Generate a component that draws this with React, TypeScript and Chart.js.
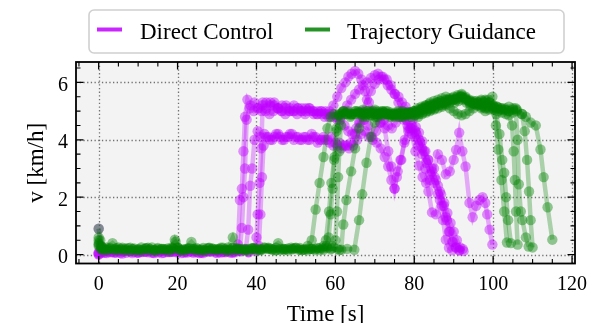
import { useEffect, useRef } from 'react';
import { Chart, registerables } from 'chart.js';

Chart.register(...registerables);

// ---------- data: [time s, speed km/h] ----------
const seriesNames = ['Direct Control', 'Trajectory Guidance'];

const dc1 = [[0,0.9],[0.5,0.3],[1,0.1],[3,0.08],[5,0.12],[7,0.06],[9,0.1],[11,0.09],[13,0.14],[15,0.07],[17,0.11],[19,0.1],[21,0.05],[23,0.12],[25,0.08],[27,0.1],[29,0.13],[31,0.07],[33,0.1],[34.6,0.15],[35.3,0.35],[35.8,1.9],[36.3,2.3],[36.7,3.6],[37.1,4.8],[37.7,5.4],[38.5,5.2],[39.5,5.3],[40.5,5.1],[41.5,5.2],[42.5,5.1],[43.5,5.3],[44.5,5.2],[45.5,5.1],[46.5,5.0],[47.5,5.1],[48.5,5.0],[49.5,5.2],[50.5,5.1],[51.5,5.0],[52.5,5.1],[53.5,5.0],[54.5,4.9],[55.5,5.0],[56.5,5.0],[57.5,4.9],[58.5,5.0],[59.5,5.2],[60.5,5.5],[61.5,5.8],[62.5,6.0],[63.3,6.2],[64.1,6.3],[65,6.4],[65.8,6.3],[66.6,6.1],[67.5,5.7],[68.5,5.3],[69.5,5.0],[70.5,4.9],[71.5,4.6],[72.5,4.4],[73.4,3.6],[74.2,3.07],[75,2.3],[75.6,2.7],[76.5,3.3],[77.5,3.9],[78.5,4.3],[79.5,4.4],[80.5,4.2],[81.5,3.9],[82.5,3.6],[83.5,3.3],[84.5,2.9],[85.5,2.6],[86.5,2.2],[87.5,1.7],[88.3,1.2],[89,0.8],[89.8,0.45],[90.6,0.25],[91.5,0.15]];

const dc2 = [[0,0.05],[1,0.08],[2,0.12],[4,0.06],[6,0.1],[8,0.13],[10,0.07],[12,0.1],[14,0.05],[16,0.12],[18,0.09],[20,0.11],[22,0.08],[24,0.13],[26,0.06],[28,0.1],[30,0.12],[32,0.08],[34,0.1],[36,0.14],[38,0.09],[39.5,0.2],[40,0.6],[40.3,1.4],[40.8,2.5],[41.2,3.7],[41.6,5.3],[42.5,5.3],[43.5,5.2],[44.5,5.3],[45.5,5.1],[46.5,5.2],[47.5,5.2],[48.5,5.1],[49.5,5.0],[50.5,5.1],[51.5,5.1],[52.5,5.0],[53.5,5.1],[54.5,5.0],[55.5,4.9],[56.5,4.9],[57.5,5.0],[58.5,4.9],[59.5,4.8],[60.5,4.7],[61.3,4.8],[62.2,5.0],[63,5.2],[64,5.4],[65,5.6],[66,5.75],[67,5.9],[68,6.0],[69,6.15],[70,6.25],[70.8,6.3],[71.6,6.2],[72.4,6.1],[73.3,5.9],[74.2,5.75],[75.1,5.6],[76,5.5],[76.9,5.3],[77.8,5.15],[78.8,4.95],[79.6,4.7],[80.4,4.45],[81.2,4.25],[82,3.95],[82.8,3.6],[83.6,3.3],[84.4,3.0],[85.2,2.7],[86,2.4],[86.8,2.1],[87.6,1.8],[88.4,1.45],[89.2,1.1],[90,0.8],[90.8,0.5],[91.6,0.25],[92.5,0.12]];

const dc3 = [[0,0.02],[1.5,0.06],[3.5,0.1],[5.5,0.05],[7.5,0.12],[9.5,0.08],[11.5,0.1],[13.5,0.06],[15.5,0.11],[17.5,0.09],[19.5,0.13],[21.5,0.07],[23.5,0.1],[25.5,0.05],[27.5,0.12],[29.5,0.08],[31.5,0.1],[33.5,0.06],[35.5,0.12],[37.3,0.2],[37.9,0.87],[38.4,2.4],[38.9,3.0],[39.5,4.0],[40.3,4.3],[41,4.1],[42,4.2],[43,4.1],[44,4.0],[45,4.2],[46,4.1],[47,4.0],[48,4.1],[49,4.2],[50,4.1],[51,4.0],[52,4.1],[53,4.0],[54,4.2],[55,4.1],[56,4.0],[57,4.1],[58,4.0],[59,4.1],[60,3.9],[61,3.9],[62,3.8],[63,3.8],[64,3.9],[65,4.2],[66,4.6],[67,5.0],[68,5.4],[69,5.7],[70,5.95],[71,6.1],[72,6.2],[73,6.1],[74,5.9],[75,5.6],[76,5.3],[77,5.0],[78,4.7],[79,4.4],[80,4.1],[81,3.8],[82,3.5],[83,3.2],[84,2.8],[85,2.5],[86,2.1],[87,1.7],[88,1.3],[88.8,0.8],[89.6,0.45],[90.5,0.25],[91.4,0.15],[92.3,0.2]];

const dc4 = [[0,0.08],[0.5,0.05],[2.5,0.1],[4.5,0.07],[6.5,0.12],[8.5,0.05],[10.5,0.1],[12.5,0.08],[14.5,0.13],[16.5,0.06],[18.5,0.1],[20.5,0.12],[22.5,0.07],[24.5,0.1],[26.5,0.05],[28.5,0.11],[30.5,0.09],[32.5,0.12],[34.5,0.08],[35.8,0.2],[36.3,0.93],[36.7,2.0],[37.1,3.0],[37.5,4.7],[38.3,5.1],[39.3,5.0],[40.3,5.1],[41.3,5.0],[42.3,5.0],[43.3,4.9],[44.3,5.0],[45.3,5.1],[46.3,5.0],[47.3,4.9],[48.3,5.0],[49.3,5.0],[50.3,4.9],[51.3,5.0],[52.3,4.9],[53.3,5.1],[54.3,5.0],[55.3,4.9],[56.3,5.0],[57.3,4.8],[58.3,4.8],[59.3,4.9],[60.3,4.8],[61.3,4.7],[62.3,4.5],[63.3,4.3],[64.3,4.2],[65.3,4.4],[66.3,4.6],[67.3,4.7],[68.3,4.5],[69.3,4.1],[70.3,4.3],[71.3,4.6],[72.3,4.7],[73.3,4.5],[74.3,4.4],[75.3,4.6],[76.3,4.8],[77.3,4.7],[78.3,4.5],[79.3,4.5],[80.3,4.3],[81.2,4.0],[82,3.7],[82.8,3.0],[83.6,2.2],[84.5,1.47],[85.5,1.4],[86.5,1.9],[87.3,1.2],[88,0.52],[88.8,0.24],[89.6,0.15]];

const dc5 = [[0,0.0],[2,0.05],[4,0.09],[6,0.04],[8,0.1],[10,0.06],[12,0.12],[14,0.08],[16,0.05],[18,0.1],[20,0.07],[22,0.11],[24,0.06],[26,0.09],[28,0.12],[30,0.05],[32,0.1],[34,0.07],[36,0.11],[38,0.08],[40,0.12],[40.6,0.3],[41,1.4],[41.4,2.7],[41.8,3.8],[42.5,4.1],[43.5,4.0],[44.5,4.1],[45.5,4.2],[46.5,4.0],[47.5,4.1],[48.5,4.2],[49.5,4.0],[50.5,4.1],[51.5,4.0],[52.5,4.1],[53.5,4.0],[54.5,4.1],[55.5,3.9],[56.5,4.0],[57.5,4.0],[58.5,3.9],[59.5,3.8],[60.5,3.8],[61.5,3.7],[62.5,3.8],[63.5,3.7],[64.5,3.8],[65.5,4.0],[66.5,4.2],[67.5,4.3],[68.5,4.1],[69.5,4.0],[70.5,3.9],[71.5,3.7],[72.5,3.4],[73.4,3.07],[74.2,2.6],[75,2.3],[75.8,2.9],[76.7,3.3],[77.6,4.0],[78.5,4.4],[79.4,4.2],[80.3,3.6],[81.2,3.1],[82.1,2.7],[83,2.5],[84,2.6],[85,3.0],[86,3.5],[87,3.3],[88,2.8],[89,2.9],[90,3.3],[90.6,3.65],[91.4,4.25],[92.2,3.6],[93,3.07],[94,1.8],[94.8,1.3],[95.7,1.7],[96.5,1.9],[97.3,2.0],[98,1.8],[98.5,1.4],[99.1,0.87],[99.8,0.35]];

const tg1 = [[0,0.9],[0.4,0.5],[1,0.25],[2.5,0.18],[4.5,0.22],[6.5,0.15],[8.5,0.2],[10.5,0.17],[12.5,0.24],[14.5,0.14],[16.5,0.2],[18.5,0.25],[19.3,0.52],[20.5,0.18],[22.5,0.21],[24.5,0.15],[26.5,0.23],[28.5,0.17],[30.5,0.2],[32.5,0.14],[34,0.6],[35,0.22],[37,0.18],[39,0.21],[41,0.15],[43,0.2],[45,0.24],[47,0.16],[49,0.2],[51,0.18],[53,0.3],[54,0.5],[55,1.57],[56,2.5],[57,3.4],[58,4.4],[58.8,4.8],[59.8,4.9],[60.8,4.85],[61.8,4.95],[62.8,4.9],[63.8,4.8],[64.8,4.9],[65.8,5.0],[66.8,4.9],[67.8,4.85],[68.8,4.95],[69.8,4.9],[70.8,4.8],[71.8,4.9],[72.8,5.0],[73.8,4.9],[74.8,4.85],[75.8,4.9],[76.8,4.8],[77.8,4.9],[78.8,4.95],[79.8,5.0],[80.8,5.1],[81.8,5.15],[82.8,5.2],[83.8,5.25],[84.8,5.2],[85.8,5.3],[86.8,5.35],[87.8,5.3],[88.8,5.4],[89.8,5.45],[90.8,5.4],[91.8,5.5],[92.8,5.45],[93.8,5.35],[94.8,5.3],[95.8,5.35],[96.8,5.25],[97.8,5.3],[98.8,5.4],[99.8,5.5],[100.7,4.5],[101.3,3.66],[102.1,2.6],[102.8,1.5],[103.5,0.42]];

const tg2 = [[0,0.6],[0.6,0.3],[1.5,0.2],[3.5,0.4],[5.5,0.18],[7.5,0.22],[9.5,0.14],[11.5,0.2],[13.5,0.25],[15.5,0.17],[17.5,0.21],[19.5,0.45],[21.5,0.19],[23.5,0.44],[25.5,0.16],[27.5,0.22],[29.5,0.18],[31.5,0.24],[33.5,0.15],[35.5,0.2],[37.5,0.17],[39.5,0.23],[41.5,0.18],[43.5,0.21],[45.5,0.4],[47.5,0.19],[49.5,0.22],[51.5,0.16],[53.5,0.2],[55.5,0.23],[57,0.3],[57.6,0.5],[58.4,1.5],[59,2.5],[59.7,3.3],[60.3,4.3],[61,4.85],[62,5.0],[63,4.95],[64,4.9],[65,5.0],[66,4.95],[67,5.05],[68,4.9],[69,5.0],[70,5.05],[71,4.95],[72,5.0],[73,4.9],[74,4.95],[75,4.85],[76,4.8],[77,4.9],[78,4.85],[79,4.95],[80,5.0],[81,4.95],[82,5.05],[83,5.1],[84,5.1],[85,5.2],[86,5.25],[87,5.3],[88,5.35],[89,5.4],[90,5.5],[91,5.55],[92,5.6],[93,5.45],[94,5.3],[95,5.25],[96,5.2],[97,5.15],[98,5.1],[99,5.2],[100,5.15],[100.8,4.9],[101.6,4.2],[102.3,3.3],[102.8,2.85],[103.3,2.0],[103.8,1.2],[104.5,0.4]];

const tg3 = [[0,0.5],[0.7,0.25],[2,0.15],[4,0.2],[6,0.24],[8,0.13],[10,0.19],[12,0.22],[14,0.16],[16,0.2],[18,0.14],[20,0.23],[22,0.18],[24,0.2],[26,0.15],[28,0.24],[30,0.19],[32,0.16],[34,0.22],[36,0.18],[38,0.14],[40,0.2],[42,0.25],[44,0.17],[46,0.2],[48,0.15],[50,0.22],[52,0.18],[54,0.2],[56,0.16],[58,0.24],[59.3,0.3],[60,0.5],[60.4,1.5],[60.7,2.7],[61,3.6],[61.4,4.5],[62.2,4.9],[63.2,5.0],[64.2,4.9],[65.2,5.0],[66.2,4.9],[67.2,4.95],[68.2,5.0],[69.2,4.85],[70.2,4.8],[71.2,4.9],[72.2,4.95],[73.2,5.0],[74.2,4.9],[75.2,4.95],[76.2,4.9],[77.2,4.8],[78.2,4.85],[79.2,4.8],[80.2,4.85],[81.2,4.9],[82.2,4.95],[83.2,5.0],[84.2,5.05],[85.2,5.1],[86.2,5.2],[87.2,5.3],[88.2,5.4],[89.2,5.35],[90.2,5.3],[91.2,5.35],[92.2,5.4],[93.2,5.3],[94.2,5.2],[95.2,5.25],[96.2,5.3],[97.2,5.2],[98.2,5.15],[99.2,5.1],[100.2,5.05],[101.2,5.0],[102.2,4.95],[103.2,4.9],[104,4.85],[104.8,4.5],[105.2,3.6],[105.5,2.6],[105.8,1.5],[106.2,0.35]];

const tg4 = [[0,0.4],[0.8,0.2],[2.8,0.24],[4.8,0.16],[6.8,0.21],[8.8,0.18],[10.8,0.25],[12.8,0.15],[14.8,0.2],[16.8,0.17],[18.8,0.22],[20.8,0.14],[22.8,0.2],[24.8,0.23],[26.8,0.16],[28.8,0.21],[30.8,0.18],[32.8,0.25],[34.8,0.15],[36.8,0.2],[38.8,0.22],[40.8,0.17],[42.8,0.21],[44.8,0.15],[46.8,0.2],[48.8,0.24],[50.8,0.17],[52.8,0.2],[54.8,0.16],[56.8,0.22],[58.8,0.18],[60.5,0.2],[61.5,0.17],[62,1.05],[62.8,1.9],[64,2.9],[65,3.7],[66,4.4],[67,4.8],[68,5.0],[69,4.95],[70,5.0],[71,4.9],[72,4.85],[73,4.9],[74,4.8],[75,4.9],[76,5.0],[77,4.95],[78,4.9],[79,4.95],[80,5.0],[81,5.05],[82,5.1],[83,5.15],[84,5.2],[85,5.25],[86,5.3],[87,5.2],[88,5.25],[89,5.3],[90,5.4],[91,5.45],[92,5.5],[93,5.4],[94,5.35],[95,5.3],[96,5.25],[97,5.35],[98,5.4],[99,5.3],[100,5.2],[101,5.15],[102,5.1],[103,5.05],[104,5.0],[105,5.05],[105.7,5.1],[106.2,4.0],[106.5,2.45],[107,1.5],[107.4,1.2],[108.3,0.6],[109,0.28]];

const tg5 = [[0,0.3],[1,0.15],[3,0.2],[5,0.25],[7,0.17],[9,0.21],[11,0.14],[13,0.2],[15,0.23],[17,0.18],[19,0.2],[21,0.16],[23,0.22],[25,0.19],[27,0.14],[29,0.2],[31,0.24],[33,0.17],[35,0.2],[37,0.15],[39,0.21],[41,0.19],[43,0.24],[45,0.16],[47,0.2],[49,0.18],[51,0.23],[53,0.15],[55,0.2],[57,0.17],[59,0.22],[61,0.16],[63,0.2],[64.8,0.17],[66,1.2],[66.8,2.1],[67.9,3.2],[69,4.1],[70,4.6],[71,4.9],[72,5.0],[73,4.9],[74,4.85],[75,4.8],[76,4.9],[77,4.85],[78,4.95],[79,4.9],[80,4.85],[81,4.8],[82,4.9],[83,4.95],[84,5.0],[85,5.05],[86,5.1],[87,5.15],[88,5.2],[89,5.1],[90,5.0],[91,4.9],[92,4.85],[93,4.9],[94,5.0],[95,5.1],[96,5.2],[97,5.1],[98,5.0],[99,5.05],[100,5.1],[101,5.15],[102,5.1],[103,5.05],[104,5.0],[105,4.95],[106,5.0],[107.3,4.9],[108,4.3],[108.6,3.3],[109.1,2.2],[109.5,1.2],[110,0.25]];

const tg6 = [[0,0.35],[0.5,0.2],[2,0.25],[4,0.16],[6,0.2],[8,0.24],[10,0.17],[12,0.21],[14,0.15],[16,0.2],[18,0.18],[20,0.25],[22,0.15],[24,0.2],[26,0.18],[28,0.22],[30,0.16],[32,0.2],[34,0.24],[36,0.18],[38,0.2],[40,0.15],[42,0.22],[44,0.19],[46,0.16],[48,0.21],[50,0.24],[52,0.17],[54,0.2],[56,0.22],[57.8,0.3],[58.3,0.6],[58.8,1.4],[59.3,2.3],[59.8,3.4],[60.3,4.4],[61,4.9],[62,5.0],[63,4.9],[64,4.85],[65,4.9],[66,4.95],[67,4.9],[68,4.8],[69,4.85],[70,4.9],[71,5.0],[72,4.95],[73,4.9],[74,4.85],[75,4.9],[76,4.95],[77,5.0],[78,4.95],[79,4.9],[80,4.95],[81,5.0],[82,5.1],[83,5.2],[84,5.3],[85,5.35],[86,5.4],[87,5.45],[88,5.5],[89,5.45],[90,5.4],[91,5.5],[92,5.55],[93,5.5],[94,5.4],[95,5.35],[96,5.3],[97,5.4],[98,5.35],[99,5.3],[100,5.2],[101,5.1],[102,5.05],[103,5.1],[104,5.15],[105,5.1],[106,5.05],[107.3,4.9],[108.3,4.8],[109.5,4.6],[110.8,4.5],[112,3.66],[112.8,2.7],[113.8,1.65],[115,0.52]];

const directControlRuns = [dc1, dc2, dc3, dc4, dc5];
const trajectoryGuidanceRuns = [tg1, tg2, tg3, tg4, tg5, tg6];

// ---------- axes ----------
const xRange = [-5.75, 120.75];
const yRange = [-0.31, 6.71];
const xTicks = [0, 20, 40, 60, 80, 100, 120];
const yTicks = [0, 2, 4, 6];
const xMinorTicks = [-5, 5, 10, 15, 25, 30, 35, 45, 50, 55, 65, 70, 75, 85, 90, 95, 105, 110, 115];
const yMinorTicks = [0.5, 1, 1.5, 2.5, 3, 3.5, 4.5, 5, 5.5, 6.5];
const xTitle = 'Time [s]';
const yTitle = 'v [km/h]';

const PURPLE = [191, 0, 255];
const GREEN = [0, 128, 0];
const rgba = (c: number[], a: number) => `rgba(${c[0]},${c[1]},${c[2]},${a})`;

const TICK_FONT = '20px "Liberation Serif"';
const BIG_FONT = '23px "Liberation Serif"';

const decorPlugin = {
  id: 'decor',
  beforeDraw(chart: any) {
    const { ctx, chartArea: a } = chart;
    const xs = chart.scales.x;
    const ys = chart.scales.y;
    ctx.save();
    ctx.fillStyle = '#ffffff';
    ctx.fillRect(0, 0, chart.width, chart.height);
    ctx.fillStyle = '#f3f3f3';
    ctx.fillRect(a.left, a.top, a.right - a.left, a.bottom - a.top);
    ctx.strokeStyle = 'rgba(100,100,100,0.9)';
    ctx.lineWidth = 1.3;
    ctx.setLineDash([1.3, 2.4]);
    xTicks.forEach((t) => {
      const px = Math.round(xs.getPixelForValue(t)) + 0.5;
      ctx.beginPath();
      ctx.moveTo(px, a.top);
      ctx.lineTo(px, a.bottom);
      ctx.stroke();
    });
    yTicks.forEach((t) => {
      const py = Math.round(ys.getPixelForValue(t)) + 0.5;
      ctx.beginPath();
      ctx.moveTo(a.left, py);
      ctx.lineTo(a.right, py);
      ctx.stroke();
    });
    ctx.restore();
  },
  afterDraw(chart: any) {
    const { ctx, chartArea: a } = chart;
    const xs = chart.scales.x;
    const ys = chart.scales.y;
    ctx.save();
    ctx.setLineDash([]);
    ctx.strokeStyle = '#000';
    const drawX = (vals: number[], len: number, w: number) => {
      ctx.lineWidth = w;
      vals.forEach((t) => {
        const px = xs.getPixelForValue(t);
        ctx.beginPath();
        ctx.moveTo(px, a.bottom);
        ctx.lineTo(px, a.bottom - len);
        ctx.moveTo(px, a.top);
        ctx.lineTo(px, a.top + len);
        ctx.stroke();
      });
    };
    const drawY = (vals: number[], len: number, w: number) => {
      ctx.lineWidth = w;
      vals.forEach((t) => {
        const py = ys.getPixelForValue(t);
        ctx.beginPath();
        ctx.moveTo(a.left, py);
        ctx.lineTo(a.left + len, py);
        ctx.moveTo(a.right, py);
        ctx.lineTo(a.right - len, py);
        ctx.stroke();
      });
    };
    drawX(xTicks, 7.5, 1.3);
    drawX(xMinorTicks, 4.5, 1.1);
    drawY(yTicks, 7.5, 1.3);
    drawY(yMinorTicks, 4.5, 1.1);
    ctx.lineWidth = 1.8;
    ctx.strokeRect(a.left, a.top, a.right - a.left, a.bottom - a.top);

    ctx.fillStyle = '#000';
    ctx.font = TICK_FONT;
    ctx.textAlign = 'center';
    ctx.textBaseline = 'alphabetic';
    xTicks.forEach((t) => {
      ctx.fillText(String(t), xs.getPixelForValue(t), 289.5);
    });
    ctx.textAlign = 'right';
    yTicks.forEach((t) => {
      ctx.fillText(String(t), 68, ys.getPixelForValue(t) + 8.5);
    });

    ctx.font = BIG_FONT;
    ctx.textAlign = 'center';
    ctx.fillText(xTitle, (a.left + a.right) / 2, 321);
    ctx.save();
    ctx.translate(43, (a.top + a.bottom) / 2);
    ctx.rotate(-Math.PI / 2);
    ctx.fillText(yTitle, 0, 0);
    ctx.restore();

    const bx = 89, by = 10, bw = 475, bh = 43, r = 5;
    ctx.beginPath();
    ctx.moveTo(bx + r, by);
    ctx.arcTo(bx + bw, by, bx + bw, by + bh, r);
    ctx.arcTo(bx + bw, by + bh, bx, by + bh, r);
    ctx.arcTo(bx, by + bh, bx, by, r);
    ctx.arcTo(bx, by, bx + bw, by, r);
    ctx.closePath();
    ctx.fillStyle = 'rgba(255,255,255,0.85)';
    ctx.fill();
    ctx.strokeStyle = '#d0d0d0';
    ctx.lineWidth = 1.6;
    ctx.stroke();

    const handles = [
      { color: PURPLE, x0: 97, x1: 122, tx: 140 },
      { color: GREEN, x0: 305, x1: 330, tx: 347 },
    ];
    handles.forEach((h, i) => {
      ctx.strokeStyle = rgba(h.color, 0.85);
      ctx.lineWidth = 4;
      ctx.beginPath();
      ctx.moveTo(h.x0, 29.5);
      ctx.lineTo(h.x1, 29.5);
      ctx.stroke();
      ctx.fillStyle = '#000';
      ctx.font = BIG_FONT;
      ctx.textAlign = 'left';
      ctx.fillText(seriesNames[i], h.tx, 38.5);
    });
    ctx.restore();
  },
};

function makeDataset(run: number[][], color: number[], label: string, order: number) {
  return {
    label,
    data: run.map(([x, y]) => ({ x, y })),
    borderColor: rgba(color, 0.3),
    borderWidth: 4.5,
    pointRadius: 5.2,
    pointBackgroundColor: rgba(color, 0.42),
    pointBorderColor: rgba(color, 0.42),
    pointBorderWidth: 0,
    pointHoverRadius: 5.2,
    tension: 0,
    fill: false,
    order,
  };
}

export default function App() {
  const ref = useRef<HTMLCanvasElement>(null);
  useEffect(() => {
    if (!ref.current) return;
    const datasets = [
      ...directControlRuns.map((r) => makeDataset(r, PURPLE, seriesNames[0], 2)),
      ...trajectoryGuidanceRuns.map((r) => makeDataset(r, GREEN, seriesNames[1], 1)),
    ];
    const chart = new Chart(ref.current, {
      type: 'line',
      data: { datasets },
      options: {
        responsive: false,
        animation: false,
        devicePixelRatio: 1,
        events: [],
        layout: { padding: { left: 76, top: 62, right: 23, bottom: 59.5 } },
        plugins: { legend: { display: false }, tooltip: { enabled: false } },
        scales: {
          x: { type: 'linear', min: xRange[0], max: xRange[1], display: false },
          y: { type: 'linear', min: yRange[0], max: yRange[1], display: false },
        },
      },
      plugins: [decorPlugin],
    } as any);
    return () => chart.destroy();
  }, []);
  return (
    <div style={{ position: 'fixed', left: 0, top: 0, width: 598, height: 323, background: '#fff' }}>
      <canvas ref={ref} width={598} height={323} style={{ width: 598, height: 323, display: 'block' }} />
    </div>
  );
}
